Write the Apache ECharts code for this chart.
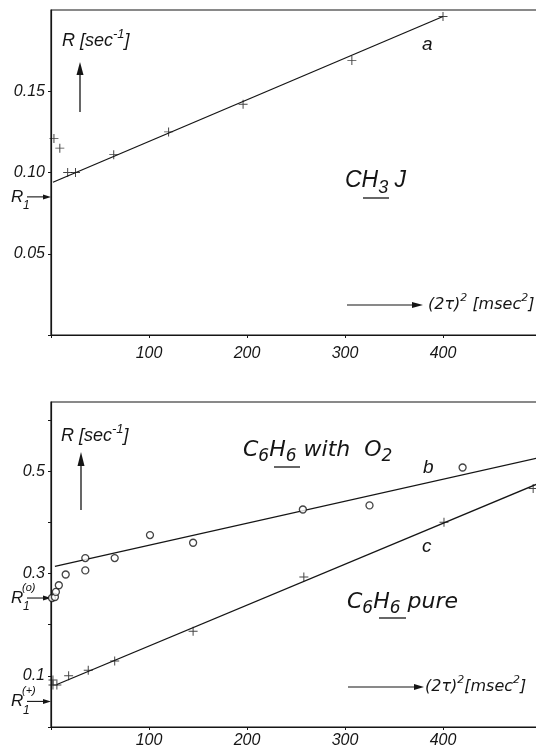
<!DOCTYPE html>
<html><head><meta charset="utf-8">
<script src="https://cdn.jsdelivr.net/npm/echarts@6/dist/echarts.min.js"></script>
<style>html,body{margin:0;padding:0;background:#fff}#c{width:536px;height:753px}</style>
</head><body><div id="c"></div>
<script>
const FONT = 'Liberation Sans';
const FONT2 = 'DejaVu Sans';
const INK = '#151515';
// ---- top panel: CH3J (curve a) ----
const aX = [3, 9, 17, 25, 64, 120, 196, 307, 400];
const aY = [0.121, 0.115, 0.100, 0.100, 0.111, 0.125, 0.142, 0.169, 0.196];
const aFitX = [2, 400];
const aFitY = [0.094, 0.196];
// ---- bottom panel: C6H6 with O2 (curve b, circles) ----
const bX = [1, 4, 5, 8, 15, 35, 35, 65, 101, 145, 257, 325, 420];
const bY = [0.252, 0.254, 0.264, 0.277, 0.298, 0.306, 0.330, 0.330, 0.375, 0.360, 0.425, 0.433, 0.507];
const bFitX = [4, 495];
const bFitY = [0.314, 0.525];
// ---- bottom panel: C6H6 pure (curve c, crosses) ----
const cX = [2, 2, 6, 18, 38, 65, 145, 258, 401, 492];
const cY = [0.092, 0.082, 0.082, 0.100, 0.111, 0.129, 0.187, 0.293, 0.400, 0.466];
const cFitX = [6, 495];
const cFitY = [0.083, 0.474];
// ---- ticks / markers ----
const xTickLabels = [100, 200, 300, 400];
const topYTickLabels = [0.05, 0.10, 0.15];
const botYTickLabels = [0.1, 0.3, 0.5];
const r1Top = 0.085, r1O = 0.252, r1P = 0.05;

const zip = (xs, ys) => xs.map((x, i) => [x, ys[i]]);
const has = (arr, v) => arr.some(t => Math.abs(t - v) < 1e-6);
const CROSS = 'path://M-0.11,-1H0.11V1H-0.11Z M-1,-0.11H1V0.11H-1Z';

const lbl = {fontFamily: FONT, fontStyle: 'italic', fontSize: 16, color: INK};

function xAxis(gi, margin) {
  return {type: 'value', gridIndex: gi, min: 0, max: 500, interval: 100,
    axisLine: {show: true, lineStyle: {color: INK, width: 1.2}},
    axisTick: {show: true, length: 3, lineStyle: {color: INK}},
    splitLine: {show: false},
    axisLabel: Object.assign({margin: margin, formatter: v => has(xTickLabels, v) ? String(v) : ''}, lbl)};
}
function yAxis(gi, max, interval, labels, digits) {
  return {type: 'value', gridIndex: gi, min: 0, max: max, interval: interval,
    axisLine: {show: true, lineStyle: {color: INK, width: 1.2}},
    axisTick: {show: true, length: 3, lineStyle: {color: INK}},
    splitLine: {show: false},
    axisLabel: Object.assign({margin: 6, showMaxLabel: false, formatter: v => has(labels, v) ? v.toFixed(digits) : ''}, lbl)};
}
const lineS = (gi, d) => ({type: 'line', xAxisIndex: gi, yAxisIndex: gi, data: d, showSymbol: false, silent: true,
  lineStyle: {color: INK, width: 1.3}, z: 2});
const crossS = (gi, d) => ({type: 'scatter', xAxisIndex: gi, yAxisIndex: gi, data: d, symbol: CROSS, symbolSize: 9,
  itemStyle: {color: INK}, z: 3});
const circS = (gi, d) => ({type: 'scatter', xAxisIndex: gi, yAxisIndex: gi, data: d, symbol: 'circle', symbolSize: 7,
  itemStyle: {color: '#fff', borderColor: INK, borderWidth: 1.3}, z: 3});

const chart = echarts.init(document.getElementById('c'), null, {renderer: 'canvas'});
chart.setOption({
  backgroundColor: '#fff',
  animation: false,
  grid: [
    {left: 51, top: 10, width: 490, height: 325, show: true, borderColor: INK, borderWidth: 1.2, backgroundColor: 'transparent', outerBoundsMode: 'none', containLabel: false},
    {left: 51, top: 402, width: 490, height: 325, show: true, borderColor: INK, borderWidth: 1.2, backgroundColor: 'transparent', outerBoundsMode: 'none', containLabel: false}
  ],
  xAxis: [xAxis(0, 11), xAxis(1, 6)],
  yAxis: [yAxis(0, 0.2, 0.05, topYTickLabels, 2), yAxis(1, 0.635, 0.1, botYTickLabels, 1)],
  series: [
    lineS(0, zip(aFitX, aFitY)), crossS(0, zip(aX, aY)),
    lineS(1, zip(bFitX, bFitY)), circS(1, zip(bX, bY)),
    lineS(1, zip(cFitX, cFitY)), crossS(1, zip(cX, cY))
  ]
});

const T = (x, y, text, size, rich, fam) => ({type: 'text', x: x, y: y, silent: true,
  style: {text: text, fill: INK, font: 'italic ' + size + 'px "' + (fam || FONT) + '"', textVerticalAlign: 'middle', rich: rich || undefined}});
const L = (x1, y1, x2, y2, w) => ({type: 'line', silent: true, shape: {x1, y1, x2, y2}, style: {stroke: INK, lineWidth: w || 1.2}});
const P = (pts) => ({type: 'polygon', silent: true, shape: {points: pts}, style: {fill: INK}});

const richSup = (size, fam) => ({
  n: {fontFamily: fam || FONT, fontStyle: 'italic', fontSize: size, lineHeight: size + 8, verticalAlign: 'middle', fill: INK},
  p: {fontFamily: fam || FONT, fontStyle: 'italic', fontSize: Math.round(size * 0.7), lineHeight: 10, verticalAlign: 'top', fill: INK},
  s: {fontFamily: fam || FONT, fontStyle: 'italic', fontSize: Math.round(size * 0.78), lineHeight: 14, verticalAlign: 'bottom', fill: INK}
});

function r1Marker(gi, val, sup) {
  const p = chart.convertToPixel({gridIndex: gi}, [0, val]);
  const ax = p[0], ay = p[1];
  const els = [L(ax - 24, ay, ax - 6, ay, 1.1), P([[ax - 8, ay - 2.5], [ax, ay], [ax - 8, ay + 2.5]]),
    T(ax - 40, ay, 'R', 17)];
  els.push(T(ax - 28, ay + 9, '1', 12));
  if (sup) els.push(T(ax - 29, ay - 10, sup, 11));
  return els;
}

const g = [];
// top panel
g.push(T(62, 41, '{n|R [sec}{p|-1}{n|]}', 18, richSup(18)));
g.push(L(80, 112, 80, 72, 1.3), P([[76.5, 75], [80, 62], [83.5, 75]]));
g.push(T(422, 45, 'a', 19));
g.push(T(345, 181, '{n|CH}{s|3}{n| J}', 23, richSup(23)));
g.push(L(363, 198, 389, 198, 1.3));
g.push(L(347, 305, 414, 305, 1.1), P([[412, 302], [423, 305], [412, 308]]));
g.push(T(428, 305, '{n|(2τ)}{p|2}{n| [msec}{p|2}{n|]}', 16, richSup(16, FONT2), FONT2));
// bottom panel
g.push(T(61, 436, '{n|R [sec}{p|-1}{n|]}', 18, richSup(18)));
g.push(L(81, 510, 81, 463, 1.3), P([[77.5, 466], [81, 452], [84.5, 466]]));
g.push(T(243, 450, '{n|C}{s|6}{n|H}{s|6}{n| with  O}{s|2}', 22, richSup(22, FONT2), FONT2));
g.push(L(274, 467, 300, 467, 1.3));
g.push(T(423, 468, 'b', 19));
g.push(T(422, 547, 'c', 19));
g.push(T(347, 602, '{n|C}{s|6}{n|H}{s|6}{n| pure}', 22, richSup(22, FONT2), FONT2));
g.push(L(379, 618, 406, 618, 1.3));
g.push(L(348, 687, 416, 687, 1.1), P([[414, 684], [424, 687], [414, 690]]));
g.push(T(425, 687, '{n|(2τ)}{p|2}{n|[msec}{p|2}{n|]}', 16, richSup(16, FONT2), FONT2));
// R1 markers
r1Marker(0, r1Top, null).forEach(e => g.push(e));
r1Marker(1, r1O, '(o)').forEach(e => g.push(e));
r1Marker(1, r1P, '(+)').forEach(e => g.push(e));

chart.setOption({graphic: {elements: g}});
</script></body></html>
